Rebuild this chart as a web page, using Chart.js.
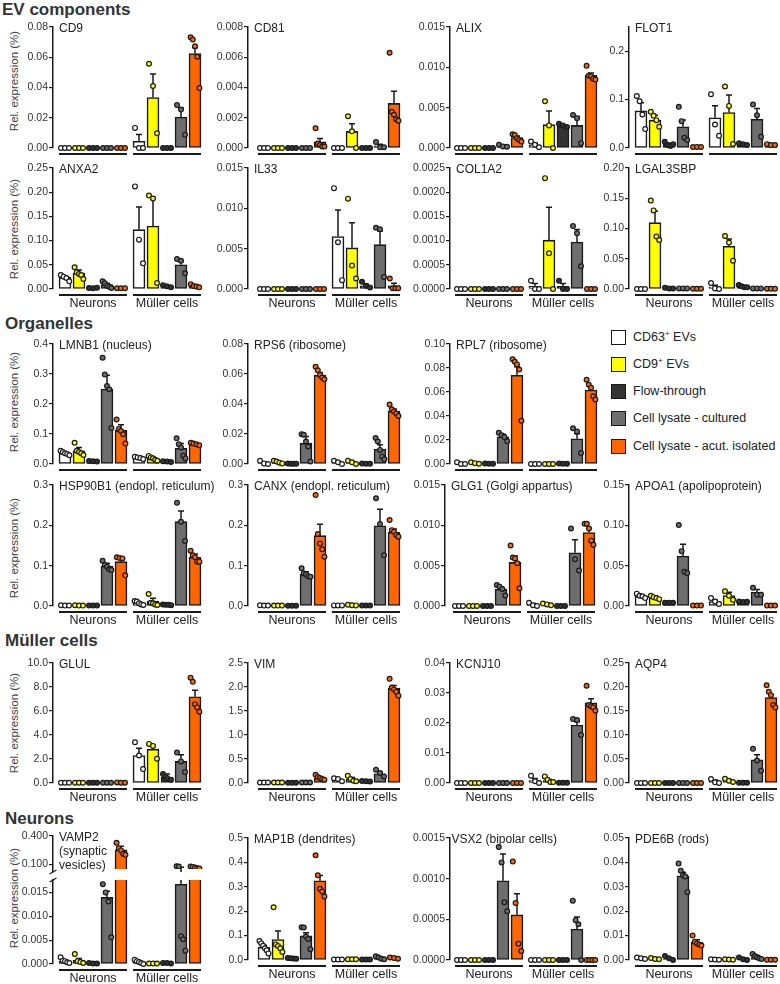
<!DOCTYPE html>
<html>
<head>
<meta charset="utf-8">
<script src="https://cdn.jsdelivr.net/npm/chart.js@4.4.0/dist/chart.umd.min.js"></script>
<style>
  body { margin: 0; background: #fff; }
  #fig { position: relative; width: 780px; height: 984px; overflow: hidden; font-family: "Liberation Sans", Arial, sans-serif; }
  #fig canvas { position: absolute; }
  .sec { position: absolute; font-weight: bold; font-size: 17px; line-height: 17px; color: #333; white-space: nowrap; }
  .ylab { position: absolute; font-size: 11.5px; line-height: 12px; color: #444; white-space: nowrap; transform: translate(-50%, -50%) rotate(-90deg); }
  .legbox { position: absolute; width: 15px; height: 15px; box-sizing: border-box; border: 1.5px solid #1a1a1a; }
  .legtxt { position: absolute; font-size: 12.5px; line-height: 15px; color: #222; white-space: nowrap; }
  .legtxt sup { font-size: 8px; vertical-align: 5px; line-height: 0; }
</style>
</head>
<body>
<div id="fig"></div>
<script>
// ---------- data ----------
var groupNames = ["Neurons", "Müller cells"];
var seriesNames = ["CD63<sup>+</sup> EVs", "CD9<sup>+</sup> EVs", "Flow-through", "Cell lysate - cultured", "Cell lysate - acut. isolated"];
var sectionNames = ["EV components", "Organelles", "Müller cells", "Neurons"];
var yTitle = "Rel. expression (%)";

// bar order: Neurons (CD63, CD9, flow, cultured, acute), Müller cells (same)
var cd9Ticks = ["0.00", "0.02", "0.04", "0.06", "0.08"];
var cd9Mean = [0, 0, 0, 0, 0, 0.0044, 0.0334, 0, 0.0205, 0.0625];
var cd9Err = [0, 0, 0, 0, 0, 0.0045, 0.0156, 0, 0.0059, 0.0037];
var cd9Dots = [[0, 0, 0], [0, 0, 0], [0, 0, 0], [0, 0, 0], [0, 0, 0], [0.0133, 0, 0], [0.0557, 0.041, 0.0098], [0, 0, 0], [0.0284, 0.0254, 0.0087], [0.0732, 0.0717, 0.0673, 0.0603, 0.0396]];

var cd81Ticks = ["0.000", "0.002", "0.004", "0.006", "0.008"];
var cd81Mean = [0, 0, 0, 0, 0.0004, 0, 0.0011, 0, 0.00015, 0.00295];
var cd81Err = [0, 0, 0, 0, 0.00022, 0, 0.0005, 0, 0.0001, 0.0008];
var cd81Dots = [[0, 0, 0], [0, 0, 0], [0, 0, 0], [0, 0, 0], [0.0013, 0.0003, 0.0002, 0.0001, 0.0001], [0, 0, 0], [0.0021, 0.0011, 0], [0, 0, 0], [0.0004, 0.00005, 0.00005], [0.0063, 0.0024, 0.0022, 0.0019, 0.0018]];

var alixTicks = ["0.000", "0.005", "0.010", "0.015"];
var alixMean = [0, 0, 0, 0.00025, 0.0013, 0.0004, 0.0029, 0.0027, 0.0028, 0.009];
var alixErr = [0, 0, 0, 0.0001, 0.0002, 0.0002, 0.0017, 0.0001, 0.0011, 0.0003];
var alixDots = [[0, 0, 0], [0, 0, 0], [0, 0, 0], [0.0004, 0.0002, 0.00015], [0.0017, 0.0016, 0.0012, 0.001, 0.0008], [0.0008, 0.0004, 0.0001], [0.0058, 0.0028, 0], [0.003, 0.0028, 0.0026], [0.0041, 0.0037, 0.0006], [0.0102, 0.009, 0.0089, 0.0086, 0.0085]];

var flot1Ticks = ["0.0", "0.1", "0.2"];
var flot1Max = 0.25;
var flot1Mean = [0.0767, 0.0575, 0.008, 0.0438, 0.002, 0.0623, 0.0733, 0.008, 0.0596, 0.0075];
var flot1Err = [0.017, 0.01, 0.002, 0.014, 0, 0.025, 0.036, 0.001, 0.022, 0.0005];
var flot1Dots = [[0.1075, 0.0966, 0.0692, 0.039], [0.0747, 0.0664, 0.0575, 0.0438], [0.013, 0.006, 0.004, 0.008], [0.085, 0.0555, 0.0212, 0.0164], [0.002, 0.002, 0.002], [0.111, 0.0486, 0.0253], [0.127, 0.087, 0.0082], [0.0096, 0.008, 0.006], [0.0897, 0.0678, 0.0233], [0.008, 0.006, 0.006]];

var anxa2Ticks = ["0.00", "0.05", "0.10", "0.15", "0.20", "0.25"];
var anxa2Mean = [0.024, 0.033, 0.002, 0.009, 0.0015, 0.1226, 0.13, 0.0055, 0.05, 0.005];
var anxa2Err = [0.0035, 0.006, 0.0005, 0.003, 0, 0.047, 0.059, 0.001, 0.007, 0.0015];
var anxa2Dots = [[0.029, 0.0255, 0.0227, 0.0158], [0.0448, 0.0344, 0.031, 0.029, 0.0207], [0.002, 0.0015, 0.0025], [0.0158, 0.0117, 0.0069, 0.0048, 0.002], [0.0015, 0.0015, 0.0015], [0.212, 0.102, 0.053], [0.193, 0.187, 0.0124], [0.008, 0.0055, 0.0034], [0.062, 0.0585, 0.0324], [0.01, 0.006, 0.005, 0.0034]];

var il33Ticks = ["0.000", "0.005", "0.010", "0.015"];
var il33Mean = [0, 0, 0, 0, 0, 0.0065, 0.0051, 0.0004, 0.0055, 0.0004];
var il33Err = [0, 0, 0, 0, 0, 0.0033, 0.0031, 0.0002, 0.0017, 0.0003];
var il33Dots = [[0, 0, 0], [0, 0, 0], [0, 0, 0], [0, 0, 0], [0, 0, 0], [0.0125, 0.0058, 0.0011], [0.0112, 0.0029, 0.0013], [0.0009, 0.0004, 0.0002], [0.0076, 0.0074, 0.0015], [0.0013, 0.0001, 0.0001, 0.0001]];

var col1a2Ticks = ["0.0000", "0.0005", "0.0010", "0.0015", "0.0020", "0.0025"];
var col1a2Mean = [0, 0, 0, 0, 0, 0.000055, 0.00101, 0.000055, 0.00097, 0];
var col1a2Err = [0, 0, 0, 0, 0, 0.00006, 0.00068, 0.00006, 0.00026, 0];
var col1a2Dots = [[0, 0, 0], [0, 0, 0], [0, 0, 0], [0, 0, 0], [0, 0, 0], [0.00017, 0, 0], [0.00229, 0.00074, 0], [0.00017, 0, 0], [0.0013, 0.00115, 0.00047], [0, 0, 0]];

var lgalsTicks = ["0.00", "0.05", "0.10", "0.15", "0.20"];
var lgalsMean = [0, 0.1096, 0.001, 0.001, 0.0005, 0.003, 0.0707, 0.0038, 0.001, 0.0005];
var lgalsErr = [0, 0.019, 0.0003, 0, 0, 0.003, 0.012, 0.001, 0, 0];
var lgalsDots = [[0, 0, 0], [0.1463, 0.1299, 0.0866, 0.0811], [0.002, 0.001, 0.001], [0.001, 0.001, 0.001], [0.0005, 0.0005, 0.0005], [0.0099, 0.001, 0], [0.0877, 0.0767, 0.0466], [0.0066, 0.0044, 0.0027, 0.0027], [0.001, 0.001, 0.001], [0.0005, 0.0005, 0.0005]];

var lmnb1Ticks = ["0.0", "0.1", "0.2", "0.3", "0.4"];
var lmnb1Mean = [0.036, 0.0438, 0.009, 0.25, 0.112, 0.0197, 0.0186, 0.0077, 0.0526, 0.0657];
var lmnb1Err = [0.004, 0.011, 0.001, 0.046, 0.019, 0.003, 0.003, 0.001, 0.016, 0.004];
var lmnb1Dots = [[0.044, 0.04, 0.036, 0.033, 0.029], [0.071, 0.044, 0.04, 0.036, 0.03], [0.01, 0.009, 0.008], [0.354, 0.298, 0.26, 0.249, 0.12], [0.148, 0.117, 0.11, 0.099, 0.068], [0.024, 0.022, 0.0197, 0.0164], [0.027, 0.022, 0.019, 0.014, 0.011], [0.009, 0.008, 0.007], [0.0855, 0.0657, 0.0548, 0.0274, 0.0186], [0.071, 0.068, 0.0657, 0.0625]];

var rps6Ticks = ["0.00", "0.02", "0.04", "0.06", "0.08"];
var rps6Mean = [0.0009, 0.0013, 0.0002, 0.0139, 0.0592, 0.0011, 0.0011, 0.0002, 0.0099, 0.0352];
var rps6Err = [0.0006, 0.0004, 0, 0.0045, 0.0018, 0.0006, 0.0006, 0, 0.0029, 0.0015];
var rps6Dots = [[0.0022, 0.0004, 0], [0.0022, 0.0016, 0.0009, 0.0004], [0.0003, 0.0002, 0.0001, 0.0001], [0.0199, 0.0195, 0.015, 0.0117, 0.0016], [0.0648, 0.0625, 0.0594, 0.0576, 0.0565], [0.0022, 0.0011, 0], [0.0022, 0.0011, 0], [0.0003, 0.0002, 0.0001], [0.0173, 0.015, 0.0094, 0.0049, 0.0031], [0.0397, 0.0365, 0.035, 0.0336, 0.032]];

var rpl7Ticks = ["0.00", "0.02", "0.04", "0.06", "0.08", "0.10"];
var rpl7Mean = [0.0005, 0.0008, 0.0003, 0.0227, 0.0739, 0, 0, 0.0003, 0.021, 0.0617];
var rpl7Err = [0.0004, 0.0004, 0, 0.002, 0.0072, 0, 0, 0, 0.0043, 0.0019];
var rpl7Dots = [[0.0014, 0, 0], [0.0014, 0.0007, 0.0002], [0.0004, 0.0003, 0.0002], [0.026, 0.024, 0.0224, 0.019], [0.0872, 0.0852, 0.083, 0.0787, 0.036], [0, 0, 0], [0, 0, 0], [0.0005, 0.0003, 0.0002], [0.0298, 0.027, 0.0091], [0.0702, 0.066, 0.0636, 0.0565, 0.0537]];

var hsp90Ticks = ["0.0", "0.1", "0.2", "0.3"];
var hsp90Mean = [0.001, 0.001, 0.001, 0.099, 0.11, 0.008, 0.0124, 0.003, 0.209, 0.1207];
var hsp90Err = [0, 0, 0, 0.007, 0.008, 0.002, 0.0066, 0.0005, 0.0265, 0.0083];
var hsp90Dots = [[0.002, 0.001, 0.001], [0.002, 0.001, 0.001], [0.001, 0.001, 0.001], [0.112, 0.102, 0.0975, 0.091, 0.089], [0.121, 0.119, 0.118, 0.076], [0.0124, 0.011, 0.0066, 0.004, 0.0025], [0.0298, 0.008, 0.0066, 0.004, 0.0025], [0.004, 0.003, 0.003, 0.002], [0.256, 0.209, 0.161], [0.137, 0.126, 0.121, 0.11, 0.11]];

var canxTicks = ["0.0", "0.1", "0.2", "0.3"];
var canxMean = [0.001, 0.001, 0.0005, 0.0785, 0.1744, 0.0015, 0.002, 0.001, 0.199, 0.1826];
var canxErr = [0, 0, 0, 0.0065, 0.028, 0, 0.0005, 0, 0.041, 0.008];
var canxDots = [[0.002, 0.001, 0.001], [0.001, 0.001, 0.001], [0.0005, 0.0005, 0.0005], [0.0934, 0.081, 0.0785, 0.074, 0.0727], [0.275, 0.1785, 0.155, 0.1405, 0.122], [0.0015, 0.0015, 0.0015], [0.003, 0.002, 0.0015], [0.001, 0.001, 0.001], [0.267, 0.203, 0.126], [0.213, 0.188, 0.184, 0.176, 0.172]];

var glg1Ticks = ["0.000", "0.005", "0.010", "0.015"];
var glg1Mean = [0, 0, 0, 0.00207, 0.0054, 0.0002, 0.0002, 0, 0.0066, 0.0091];
var glg1Err = [0, 0, 0, 0.0003, 0.0008, 0.0001, 0.0001, 0, 0.0016, 0.0005];
var glg1Dots = [[0, 0, 0], [0, 0, 0], [0, 0, 0], [0.0026, 0.0024, 0.0021, 0.0013], [0.0075, 0.006, 0.0059, 0.0053, 0.0022], [0.0004, 0.0001, 0], [0.0003, 0.0002, 0.0001], [0, 0, 0], [0.0096, 0.0058, 0.0044], [0.0102, 0.0102, 0.0096, 0.0081, 0.0076]];

var apoa1Ticks = ["0.00", "0.05", "0.10", "0.15"];
var apoa1Mean = [0.012, 0.0106, 0.004, 0.062, 0.0005, 0.0055, 0.013, 0.0055, 0.0174, 0.0005];
var apoa1Err = [0.002, 0.002, 0, 0.0145, 0, 0.002, 0.004, 0, 0.003, 0];
var apoa1Dots = [[0.0153, 0.0127, 0.012, 0.0098], [0.0127, 0.011, 0.0098, 0.0085], [0.004, 0.004, 0.004], [0.1003, 0.068, 0.0425, 0.041], [0.0005, 0.0005, 0.0005], [0.0098, 0.0055, 0.0025], [0.0183, 0.0127, 0.0076], [0.0055, 0.005, 0.0052], [0.0225, 0.014, 0.014], [0.0005, 0.0005, 0.0005]];

var glulTicks = ["0.0", "2.0", "4.0", "6.0", "8.0", "10.0"];
var glulMean = [0.02, 0.02, 0.02, 0.02, 0.03, 2.29, 2.82, 0.47, 1.8, 7.18];
var glulErr = [0, 0, 0, 0, 0, 0.61, 0.3, 0.28, 0.55, 0.55];
var glulDots = [[0.02, 0.02, 0.02], [0.02, 0.02, 0.02], [0.02, 0.02, 0.02], [0.02, 0.02, 0.02], [0.05, 0.02, 0.02], [3.4, 2.29, 1.16], [3.26, 3.09, 2.02], [0.75, 0.41, 0.28], [2.54, 1.8, 0.91], [8.78, 8.43, 6.57, 6.3, 5.94]];

var vimTicks = ["0.0", "0.5", "1.0", "1.5", "2.0", "2.5"];
var vimMean = [0.01, 0.01, 0.005, 0.01, 0.104, 0.069, 0.083, 0.035, 0.193, 1.97];
var vimErr = [0, 0, 0, 0, 0.025, 0.02, 0.03, 0.01, 0.04, 0.06];
var vimDots = [[0.01, 0.01, 0.01], [0.01, 0.01, 0.01], [0.005, 0.005, 0.005], [0.01, 0.01, 0.01], [0.173, 0.124, 0.104, 0.083, 0.069], [0.1, 0.083, 0.035], [0.15, 0.083, 0.048, 0.035], [0.04, 0.035, 0.03], [0.276, 0.207, 0.138], [2.17, 1.99, 1.95, 1.9, 1.82]];

var kcnj10Ticks = ["0.00", "0.01", "0.02", "0.03", "0.04"];
var kcnj10Mean = [0, 0, 0, 0, 0, 0.0008, 0.0008, 0.0001, 0.0193, 0.0267];
var kcnj10Err = [0, 0, 0, 0, 0, 0.0007, 0.0004, 0, 0.0011, 0.0014];
var kcnj10Dots = [[0, 0, 0], [0, 0, 0], [0, 0, 0], [0, 0, 0], [0, 0, 0], [0.0024, 0.0006, 0], [0.0022, 0.0011, 0.0003, 0.0003], [0.0001, 0.0001, 0.0001], [0.0213, 0.021, 0.016], [0.0324, 0.026, 0.0256, 0.0252, 0.0241]];

var aqp4Ticks = ["0.00", "0.05", "0.10", "0.15", "0.20", "0.25"];
var aqp4Mean = [0, 0, 0, 0, 0, 0.0035, 0.0035, 0.0005, 0.0483, 0.178];
var aqp4Err = [0, 0, 0, 0, 0, 0.003, 0.002, 0, 0.0105, 0.005];
var aqp4Dots = [[0, 0, 0], [0, 0, 0], [0, 0, 0], [0, 0, 0], [0, 0, 0], [0.0083, 0.0014, 0], [0.009, 0.0048, 0.002], [0.0005, 0.0005, 0.0005], [0.0711, 0.047, 0.0256], [0.2037, 0.19, 0.183, 0.1623, 0.1575]];

// VAMP2 has a broken y axis: lower segment up to vamp2Split, upper segment above it
var vamp2LowTicks = ["0.000", "0.005", "0.010", "0.015"];
var vamp2HighTicks = ["0.100", "0.400"];
var vamp2Split = 0.0176;
var vamp2Mean = [0.00056, 0.00077, 0.0001, 0.01395, 0.254, 0.0004, 0.0001, 0.0002, 0.0167, 0.063];
var vamp2Err = [0.0002, 0.0004, 0, 0.0013, 0.036, 0.0002, 0, 0, 0.051, 0.004];
var vamp2Dots = [[0.0014, 0.0007, 0.0006, 0.00035, 0.0002], [0.0021, 0.0006, 0.0004, 0.0002], [0.0002, 0.0001, 0.0001], [0.0167, 0.015, 0.0131, 0.0056], [0.329, 0.271, 0.247, 0.211, 0.2], [0.0009, 0.0006, 0.0004, 0.0002, 0], [0.0001, 0.0001, 0.0001], [0.0002, 0.0002, 0.0001], [0.079, 0.075, 0.0058, 0.0052, 0.0028], [0.076, 0.072, 0.066, 0.058, 0.055]];

var map1bTicks = ["0.0", "0.1", "0.2", "0.3", "0.4", "0.5"];
var map1bMean = [0.052, 0.0836, 0.007, 0.0986, 0.3247, 0.002, 0.003, 0.002, 0.007, 0.007];
var map1bErr = [0.008, 0.035, 0.001, 0.013, 0.022, 0, 0, 0, 0.002, 0.001];
var map1bDots = [[0.078, 0.068, 0.058, 0.048, 0.04, 0.027], [0.216, 0.064, 0.057, 0.048, 0.033], [0.008, 0.007, 0.006, 0.005], [0.134, 0.133, 0.096, 0.086, 0.044], [0.429, 0.347, 0.292, 0.281, 0.26], [0.002, 0.002, 0.002], [0.003, 0.003, 0.003], [0.002, 0.002, 0.002], [0.015, 0.01, 0.005, 0.003], [0.01, 0.008, 0.005]];

var vsx2Ticks = ["0.0000", "0.0005", "0.0010", "0.0015"];
var vsx2Mean = [0, 0, 0, 0.000974, 0.000555, 0, 0, 0, 0.00038, 0];
var vsx2Err = [0, 0, 0, 0.00033, 0.00026, 0, 0, 0, 0.00015, 0];
var vsx2Dots = [[0, 0, 0], [0, 0, 0], [0, 0, 0], [0.00139, 0.0012, 0.00071, 0.0006], [0.00121, 0.0007, 0.0002, 0.00011], [0, 0, 0], [0, 0, 0], [0, 0, 0], [0.00073, 0.00049, 0.00044, 0], [0, 0, 0, 0]];

var pde6bTicks = ["0.00", "0.01", "0.02", "0.03", "0.04", "0.05"];
var pde6bMean = [0.0007, 0.0005, 0.0003, 0.0345, 0.00726, 0.0002, 0.0002, 0.0003, 0.001, 0.0001];
var pde6bErr = [0.0002, 0.0002, 0.0003, 0.0015, 0.001, 0, 0, 0.0003, 0.0008, 0];
var pde6bDots = [[0.001, 0.0007, 0.0004], [0.0008, 0.0004, 0.0003], [0.0016, 0.0007, 0], [0.0395, 0.0366, 0.0347, 0.0342, 0.0278], [0.01, 0.0075, 0.0068, 0.0064, 0.0059], [0.0003, 0.0002, 0.0001], [0.0003, 0.0002, 0.0001], [0.001, 0.0003, 0], [0.0025, 0.0016, 0.0011, 0.0007, 0.0004], [0.0001, 0.0001, 0.0001]];

// ---------- layout & style ----------
var fills = ["#ffffff", "#ffff00", "#333333", "#6e6e6e", "#ff6600"];
var ink = "#1a1a1a";
var fontFam = '"Liberation Sans", Arial, sans-serif';
var rowTop = [27, 168, 344, 485, 663, 838];
var rowZero = [148, 289, 464, 606, 783, 960];
var rowLabels = [false, true, false, true, true, true];
var rowTitleY = [81, 229, 402, 548, 723, 898];
var colAxis = [53, 248, 450, 629];
var colStart = [59, 258, 455, 635];
var spread = { 1: [0], 2: [-2.5, 2.5], 3: [-4, 0, 4], 4: [-4.2, -1.4, 1.4, 4.2], 5: [-4.4, -2.2, 0, 2.2, 4.4], 6: [-4.5, -2.7, -0.9, 0.9, 2.7, 4.5] };

var panels = [
    { title: "CD9", row: 0, col: 0, ticks: cd9Ticks, mean: cd9Mean, err: cd9Err, dots: cd9Dots },
    { title: "CD81", row: 0, col: 1, ticks: cd81Ticks, mean: cd81Mean, err: cd81Err, dots: cd81Dots },
    { title: "ALIX", row: 0, col: 2, ticks: alixTicks, mean: alixMean, err: alixErr, dots: alixDots },
    { title: "FLOT1", row: 0, col: 3, ticks: flot1Ticks, max: flot1Max, mean: flot1Mean, err: flot1Err, dots: flot1Dots },
    { title: "ANXA2", row: 1, col: 0, ticks: anxa2Ticks, mean: anxa2Mean, err: anxa2Err, dots: anxa2Dots },
    { title: "IL33", row: 1, col: 1, ticks: il33Ticks, mean: il33Mean, err: il33Err, dots: il33Dots },
    { title: "COL1A2", row: 1, col: 2, ticks: col1a2Ticks, mean: col1a2Mean, err: col1a2Err, dots: col1a2Dots },
    { title: "LGAL3SBP", row: 1, col: 3, ticks: lgalsTicks, mean: lgalsMean, err: lgalsErr, dots: lgalsDots },
    { title: "LMNB1 (nucleus)", row: 2, col: 0, ticks: lmnb1Ticks, mean: lmnb1Mean, err: lmnb1Err, dots: lmnb1Dots },
    { title: "RPS6 (ribosome)", row: 2, col: 1, ticks: rps6Ticks, mean: rps6Mean, err: rps6Err, dots: rps6Dots },
    { title: "RPL7 (ribosome)", row: 2, col: 2, ticks: rpl7Ticks, mean: rpl7Mean, err: rpl7Err, dots: rpl7Dots },
    { title: "HSP90B1 (endopl. reticulum)", row: 3, col: 0, ticks: hsp90Ticks, mean: hsp90Mean, err: hsp90Err, dots: hsp90Dots },
    { title: "CANX (endopl. reticulum)", row: 3, col: 1, ticks: canxTicks, mean: canxMean, err: canxErr, dots: canxDots },
    { title: "GLG1 (Golgi appartus)", row: 3, col: 2, axis: 445, start: 453, ticks: glg1Ticks, mean: glg1Mean, err: glg1Err, dots: glg1Dots },
    { title: "APOA1 (apolipoprotein)", row: 3, col: 3, ticks: apoa1Ticks, mean: apoa1Mean, err: apoa1Err, dots: apoa1Dots },
    { title: "GLUL", row: 4, col: 0, ticks: glulTicks, mean: glulMean, err: glulErr, dots: glulDots },
    { title: "VIM", row: 4, col: 1, ticks: vimTicks, mean: vimMean, err: vimErr, dots: vimDots },
    { title: "KCNJ10", row: 4, col: 2, ticks: kcnj10Ticks, mean: kcnj10Mean, err: kcnj10Err, dots: kcnj10Dots },
    { title: "AQP4", row: 4, col: 3, ticks: aqp4Ticks, mean: aqp4Mean, err: aqp4Err, dots: aqp4Dots },
    { title: "VAMP2\n(synaptic\nvesicles)", row: 5, col: 0, part: "upper", top: 836, zero: 872, ticks: vamp2HighTicks, min: vamp2Split, mean: vamp2Mean, err: vamp2Err, dots: vamp2Dots },
    { title: "", row: 5, col: 0, part: "lower", top: 880, zero: 964, ticks: vamp2LowTicks, max: vamp2Split, mean: vamp2Mean, err: vamp2Err, dots: vamp2Dots },
    { title: "MAP1B (dendrites)", row: 5, col: 1, ticks: map1bTicks, mean: map1bMean, err: map1bErr, dots: map1bDots },
    { title: "VSX2 (bipolar cells)", row: 5, col: 2, titleDx: 1.5, ticks: vsx2Ticks, mean: vsx2Mean, err: vsx2Err, dots: vsx2Dots },
    { title: "PDE6B (rods)", row: 5, col: 3, ticks: pde6bTicks, mean: pde6bMean, err: pde6bErr, dots: pde6bDots }
];

var fig = document.getElementById("fig");

function slot(i) {
    return 6 + 14 * i + (i >= 5 ? 4 : 0);
}

function pick(v, d) {
    return v !== undefined ? v : d;
}

function drawPanel(p) {
    var axisX = pick(p.axis, colAxis[p.col]);
    var start = pick(p.start, colStart[p.col]);
    var top = pick(p.top, rowTop[p.row]);
    var zero = pick(p.zero, rowZero[p.row]);
    var padT = 10, padB = 28, yW = 48, padR = 16;
    var plotW = (start - axisX) + 145;

    var c = document.createElement("canvas");
    c.width = yW + plotW + padR;
    c.height = (zero - top) + padT + padB;
    c.style.left = (axisX - yW) + "px";
    c.style.top = (top - padT) + "px";
    fig.appendChild(c);

    var bars = p.mean.map(function (m, i) {
        return { x: slot(i), y: m };
    });
    var pts = [], ptCol = [];
    p.dots.forEach(function (d, i) {
        var off = spread[d.length];
        d.forEach(function (v, j) {
            pts.push({ x: slot(i) + off[j], y: v });
            ptCol.push(fills[i % 5]);
        });
    });

    var yMin = pick(p.min, 0);
    var yMax = pick(p.max, parseFloat(p.ticks[p.ticks.length - 1]));
    // the two halves of the broken axis hide what falls past the break
    var clip = false;
    if (p.part === "lower") clip = { left: 10, right: 10, top: 0, bottom: 10 };
    if (p.part === "upper") clip = { left: 10, right: 10, top: 10, bottom: -3 };

    var deco = {
        id: "deco",
        afterDatasetDraw: function (chart, args) {
            if (args.index !== 0) return;
            var ctx = chart.ctx, xs = chart.scales.x, ys = chart.scales.y, a = chart.chartArea;
            ctx.save();
            ctx.strokeStyle = ink;
            ctx.lineWidth = 1.5;
            p.mean.forEach(function (m, i) {
                var e = p.err[i];
                if (!e) return;
                var x = xs.getPixelForValue(slot(i));
                var y1 = ys.getPixelForValue(m);
                var capY = ys.getPixelForValue(m + e);
                var y2 = Math.max(capY, a.top);
                y1 = Math.min(y1, a.bottom);
                if (y1 <= y2) return;
                ctx.beginPath();
                ctx.moveTo(x, y1);
                ctx.lineTo(x, y2);
                if (capY >= a.top - 0.5) {
                    ctx.moveTo(x - 3, capY);
                    ctx.lineTo(x + 3, capY);
                }
                ctx.stroke();
            });
            ctx.restore();
        },
        afterDraw: function (chart) {
            var ctx = chart.ctx, xs = chart.scales.x, a = chart.chartArea;
            ctx.save();
            ctx.fillStyle = "#222";
            if (p.title) {
                ctx.font = "12px " + fontFam;
                ctx.textAlign = "left";
                ctx.textBaseline = "alphabetic";
                p.title.split("\n").forEach(function (t, k) {
                    ctx.fillText(t, a.left + pick(p.titleDx, 6), a.top + 4.5 + 14 * k);
                });
            }
            ctx.strokeStyle = ink;
            if (p.part !== "upper") {
                var uy = a.bottom + 6;
                for (var g = 0; g < 2; g++) {
                    var x1 = xs.getPixelForValue(slot(g * 5)) - 6;
                    var x2 = xs.getPixelForValue(slot(g * 5 + 4)) + 6;
                    ctx.lineWidth = 2;
                    ctx.beginPath();
                    ctx.moveTo(x1, uy);
                    ctx.lineTo(x2, uy);
                    ctx.stroke();
                    if (rowLabels[p.row]) {
                        ctx.font = "12.5px " + fontFam;
                        ctx.textAlign = "center";
                        ctx.textBaseline = "middle";
                        ctx.fillText(groupNames[g], (x1 + x2) / 2, uy + 8.5);
                    }
                }
            }
            if (p.part) {
                var by = p.part === "upper" ? a.bottom : a.top;
                ctx.lineWidth = 1.3;
                ctx.beginPath();
                ctx.moveTo(a.left - 3.5, by + 2);
                ctx.lineTo(a.left + 3.5, by - 2);
                ctx.stroke();
            }
            ctx.restore();
        }
    };

    new Chart(c, {
        type: "bar",
        data: {
            datasets: [
                {
                    type: "bar",
                    data: bars,
                    backgroundColor: fills.concat(fills),
                    borderColor: ink,
                    borderWidth: 1.6,
                    borderSkipped: false,
                    barThickness: 12,
                    clip: clip,
                    order: 2
                },
                {
                    type: "scatter",
                    data: pts,
                    pointBackgroundColor: ptCol,
                    pointBorderColor: ink,
                    pointBorderWidth: 1.2,
                    pointRadius: 2.4,
                    clip: clip,
                    order: 1
                }
            ]
        },
        options: {
            responsive: false,
            animation: false,
            devicePixelRatio: 1,
            events: [],
            layout: { padding: { top: padT, bottom: padB, left: 0, right: padR } },
            plugins: { legend: { display: false }, tooltip: { enabled: false } },
            scales: {
                x: {
                    type: "linear",
                    display: false,
                    offset: false,
                    min: -(start - axisX),
                    max: 145
                },
                y: {
                    min: yMin,
                    max: yMax,
                    afterFit: function (s) {
                        s.width = yW;
                    },
                    afterBuildTicks: function (s) {
                        s.ticks = p.ticks.map(function (t) {
                            return { value: parseFloat(t) };
                        });
                    },
                    ticks: {
                        autoSkip: false,
                        padding: 1,
                        color: "#333",
                        font: { size: 10.5, family: fontFam },
                        callback: function (v, i) {
                            return p.ticks[i];
                        }
                    },
                    grid: { drawOnChartArea: false, drawTicks: true, tickLength: 4, color: ink, lineWidth: 1.2 },
                    border: { display: true, color: ink, width: 1.5 }
                }
            }
        },
        plugins: [deco]
    });
}

// section headings
var secTop = [0.6, 315, 632.3, 809.6];
var secLeft = [2, 5, 5, 5];
sectionNames.forEach(function (s, i) {
    var d = document.createElement("div");
    d.className = "sec";
    d.textContent = s;
    d.style.left = secLeft[i] + "px";
    d.style.top = secTop[i] + "px";
    fig.appendChild(d);
});

// y axis titles, one per row
rowTitleY.forEach(function (y) {
    var d = document.createElement("div");
    d.className = "ylab";
    d.textContent = yTitle;
    d.style.left = "14px";
    d.style.top = y + "px";
    fig.appendChild(d);
});

// legend
var legY = [337, 364, 391, 418.5, 446];
seriesNames.forEach(function (s, i) {
    var b = document.createElement("div");
    b.className = "legbox";
    b.style.left = "611px";
    b.style.top = (legY[i] - 7.5) + "px";
    b.style.background = fills[i];
    fig.appendChild(b);
    var t = document.createElement("div");
    t.className = "legtxt";
    t.innerHTML = s;
    t.style.left = "633px";
    t.style.top = (legY[i] - 7.5) + "px";
    fig.appendChild(t);
});

panels.forEach(drawPanel);
</script>
</body>
</html>
